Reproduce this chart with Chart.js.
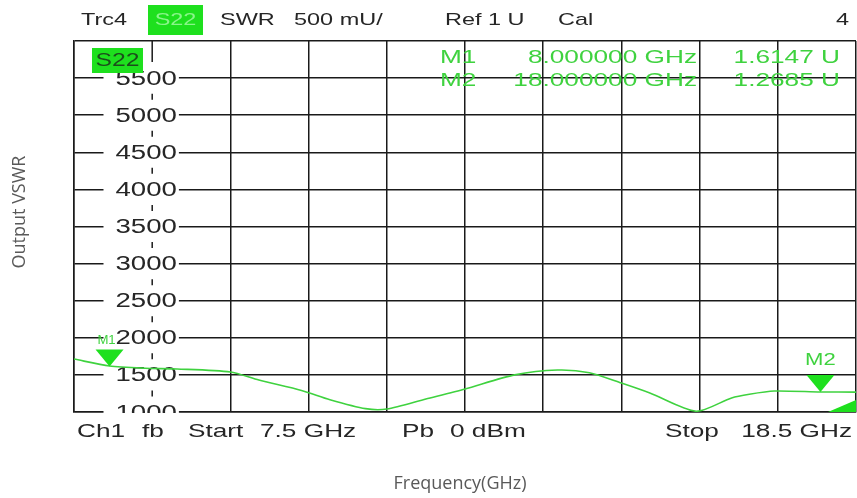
<!DOCTYPE html>
<html>
<head>
<meta charset="utf-8">
<script src="https://cdn.jsdelivr.net/npm/chart.js@4"></script>
<style>
  html, body { margin: 0; padding: 0; background: #fff; }
  #wrap { width: 857px; height: 498px; position: relative; }
</style>
</head>
<body>
<div id="wrap"><canvas id="vswrChart"></canvas></div>
<script>
// trace (frequency in GHz, VSWR in mU)
const freqGHz = [7.5, 8.0, 8.5, 8.95, 9.7, 10.1, 10.7, 11.1, 11.6, 11.9, 12.45, 13.0, 13.7, 14.3, 14.75, 15.2, 15.6, 16.25, 16.75, 17.0, 17.35, 18.0, 18.5];
const vswr = [1714, 1620, 1590, 1580, 1540, 1430, 1290, 1165, 1045, 1040, 1175, 1310, 1500, 1566, 1530, 1390, 1256, 1010, 1190, 1240, 1283, 1270, 1268];

// vertical grid positions (10 divisions from start to stop)
const xGrid = [7.5, 8.6, 9.7, 10.8, 11.9, 13.0, 14.1, 15.2, 16.3, 17.4, 18.5];
const yTicks = [1000, 1500, 2000, 2500, 3000, 3500, 4000, 4500, 5000, 5500];

const markerNames = ['M1', 'M2'];
const markerFreq = [8.0, 18.0];
const markerVal = [1614.7, 1268.5];
const markerFreqText = ['8.000000 GHz', '18.000000 GHz'];
const markerValText = ['1.6147 U', '1.2685 U'];

const GREEN = '#3fd23f';
const BOX_GREEN = '#1ee01e';
const GRID = '#1a1a1a';
const INK = '#262626';
const FONT = '"Liberation Sans", Arial, sans-serif';
const SX = 1.38; // the analyser font is drawn wide

function txt(ctx, s, x, y, size, color, align, sx) {
  ctx.save();
  ctx.font = size + 'px ' + FONT;
  ctx.fillStyle = color;
  ctx.textBaseline = 'middle';
  ctx.textAlign = align || 'left';
  ctx.translate(x, y);
  ctx.scale(sx || SX, 1);
  ctx.fillText(s, 0, 0);
  ctx.restore();
}

function textWidth(ctx, s, size, sx) {
  ctx.save();
  ctx.font = size + 'px ' + FONT;
  const w = ctx.measureText(s).width * (sx || SX);
  ctx.restore();
  return w;
}

const vnaScreen = {
  id: 'vnaScreen',
  beforeDatasetsDraw(chart) {
    const ctx = chart.ctx;
    const a = chart.chartArea;
    const xs = chart.scales.x, ys = chart.scales.y;
    const lx = xs.getPixelForValue(xGrid[1]);
    const labX = lx - 6;

    ctx.save();
    ctx.beginPath();
    ctx.rect(a.left, a.top, a.right - a.left, a.bottom - a.top + 1);
    ctx.clip();

    // second vertical line: solid at the top, then short dashes between labels
    ctx.strokeStyle = GRID;
    ctx.lineWidth = 1.5;
    ctx.beginPath();
    ctx.moveTo(lx, a.top);
    ctx.lineTo(lx, ys.getPixelForValue(yTicks[yTicks.length - 1]) - 16);
    ctx.stroke();
    for (let i = 0; i < yTicks.length - 1; i++) {
      const my = (ys.getPixelForValue(yTicks[i]) + ys.getPixelForValue(yTicks[i + 1])) / 2;
      ctx.beginPath();
      ctx.moveTo(lx, my - 3);
      ctx.lineTo(lx, my + 3);
      ctx.stroke();
    }

    // white boxes behind the level labels
    ctx.fillStyle = '#fff';
    yTicks.forEach(v => {
      const y = ys.getPixelForValue(v);
      const w = textWidth(ctx, String(v), 20);
      ctx.fillRect(labX - w / 2 - 12, y - 10, w + 14, 20);
    });

    // M1 caption sits partly under the level labels
    txt(ctx, markerNames[0], xs.getPixelForValue(markerFreq[0]) - 3, ys.getPixelForValue(markerVal[0]) - 26, 12, GREEN, 'center', 1.1);

    yTicks.forEach(v => {
      txt(ctx, String(v), labX, ys.getPixelForValue(v) + 1, 20, INK, 'center');
    });

    // S22 badge in the diagram
    ctx.fillStyle = BOX_GREEN;
    ctx.fillRect(a.left + 18, a.top + 7, 51, 25);
    txt(ctx, 'S22', a.left + 43.5, a.top + 20, 19, '#1c4d1c', 'center', 1.3);
    ctx.restore();

    // marker table
    for (let i = 0; i < markerNames.length; i++) {
      const y = a.top + 17 + i * 23;
      txt(ctx, markerNames[i], 440, y, 19, GREEN, 'left');
      txt(ctx, markerFreqText[i], 697, y, 19, GREEN, 'right');
      txt(ctx, markerValText[i], 840, y, 19, GREEN, 'right');
    }
  },
  afterDatasetsDraw(chart) {
    const ctx = chart.ctx;
    const a = chart.chartArea;
    const xs = chart.scales.x, ys = chart.scales.y;

    ctx.save();
    ctx.fillStyle = BOX_GREEN;
    for (let i = 0; i < markerNames.length; i++) {
      const px = xs.getPixelForValue(markerFreq[i]);
      const py = ys.getPixelForValue(markerVal[i]);
      ctx.beginPath();
      ctx.moveTo(px, py);
      ctx.lineTo(px - 14, py - 17);
      ctx.lineTo(px + 14, py - 17);
      ctx.closePath();
      ctx.fill();
      if (i > 0) txt(ctx, markerNames[i], px, py - 31, 16, GREEN, 'center');
    }
    // out-of-range marker corner
    ctx.beginPath();
    ctx.moveTo(a.right - 28, a.bottom);
    ctx.lineTo(a.right, a.bottom - 12);
    ctx.lineTo(a.right, a.bottom);
    ctx.closePath();
    ctx.fill();
    ctx.restore();
  },
  afterDraw(chart) {
    const ctx = chart.ctx;
    // header line
    const hy = 20;
    txt(ctx, 'Trc4', 81, hy, 17, INK);
    ctx.fillStyle = BOX_GREEN;
    ctx.fillRect(148, 5, 55, 30);
    txt(ctx, 'S22', 175.5, hy, 17, '#8af58a', 'center');
    txt(ctx, 'SWR', 220, hy, 17, INK);
    txt(ctx, '500 mU/', 294, hy, 17, INK);
    txt(ctx, 'Ref 1 U', 445, hy, 17, INK);
    txt(ctx, 'Cal', 558, hy, 17, INK);
    txt(ctx, '4', 849, hy, 17, INK, 'right');

    // footer line
    const fy = 432;
    txt(ctx, 'Ch1', 77, fy, 19, INK);
    txt(ctx, 'fb', 142, fy, 19, INK);
    txt(ctx, 'Start', 188, fy, 19, INK);
    txt(ctx, '7.5 GHz', 260, fy, 19, INK);
    txt(ctx, 'Pb', 402, fy, 19, INK);
    txt(ctx, '0 dBm', 450, fy, 19, INK);
    txt(ctx, 'Stop', 665, fy, 19, INK);
    txt(ctx, '18.5 GHz', 852, fy, 19, INK, 'right');

    // axis titles
    ctx.save();
    ctx.font = '18px "Open Sans", sans-serif';
    ctx.fillStyle = '#595959';
    ctx.textAlign = 'center';
    ctx.textBaseline = 'middle';
    ctx.fillText('Frequency(GHz)', 460, 484);
    ctx.translate(20, 212);
    ctx.rotate(-Math.PI / 2);
    ctx.fillText('Output VSWR', 0, 0);
    ctx.restore();
  }
};

new Chart(document.getElementById('vswrChart'), {
  type: 'line',
  data: {
    datasets: [{
      label: 'S22 SWR',
      data: freqGHz.map((f, i) => ({ x: f, y: vswr[i] })),
      borderColor: GREEN,
      borderWidth: 1.6,
      pointRadius: 0,
      tension: 0.25,
      fill: false
    }]
  },
  options: {
    responsive: true,
    maintainAspectRatio: false,
    animation: false,
    layout: { padding: { left: 74, top: 41, right: 1, bottom: 86 } },
    plugins: { legend: { display: false }, tooltip: { enabled: false } },
    scales: {
      x: {
        type: 'linear',
        min: 7.5,
        max: 18.5,
        afterBuildTicks: scale => { scale.ticks = xGrid.map(v => ({ value: v })); },
        ticks: { display: false },
        grid: {
          drawTicks: false,
          lineWidth: 1.5,
          color: c => (c.index === 1 ? 'rgba(0,0,0,0)' : GRID)
        },
        border: { color: GRID, width: 1.5 }
      },
      y: {
        type: 'linear',
        min: 1000,
        max: 6000,
        ticks: { display: false, stepSize: 500 },
        grid: { drawTicks: false, lineWidth: 1.5, color: GRID },
        border: { color: GRID, width: 1.5 }
      }
    }
  },
  plugins: [vnaScreen]
});
</script>
</body>
</html>
